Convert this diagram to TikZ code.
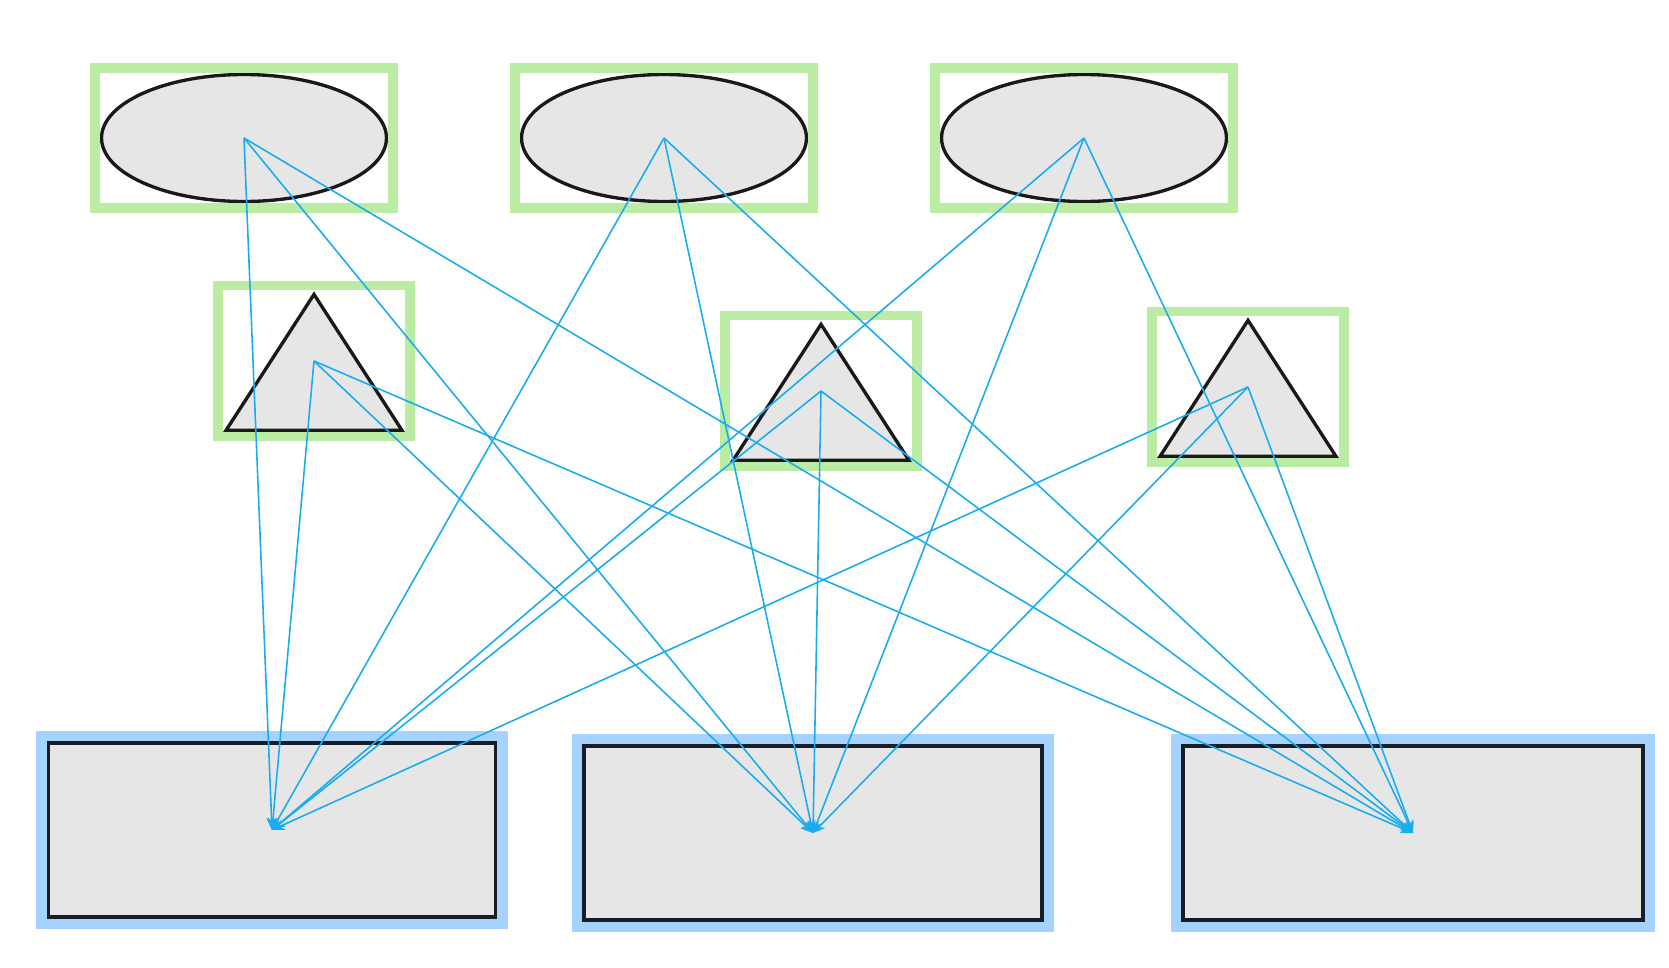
\documentclass[tikz,border=0pt]{standalone}
\usetikzlibrary{shapes.geometric,fit,calc,arrows.meta}
\definecolor{framegreen}{RGB}{187,236,164}
\definecolor{frameblue}{RGB}{165,210,255}
\definecolor{shapegray}{RGB}{230,230,230}
\definecolor{edgedark}{RGB}{24,30,40}
\definecolor{linkblue}{RGB}{25,172,240}

\begin{document}
\begin{tikzpicture}[x=0.02cm, y=-0.02cm,
  oval/.style={ellipse, draw=black!90, fill=shapegray, line width=1.9pt,
    minimum width=5.7cm, minimum height=2.54cm, inner sep=0pt},
  tri/.style={isosceles triangle, isosceles triangle stretches,
    shape border rotate=90, draw=black!90, fill=shapegray, line width=1.9pt,
    minimum width=3.52cm, minimum height=2.72cm, inner sep=0pt,
    anchor=lower side},
  target/.style={rectangle, draw=edgedark, fill=shapegray, line width=2pt,
    preaction={draw=frameblue, line width=14.2pt},
    minimum height=3.48cm, inner sep=0pt},
  greenframe/.style={draw=framegreen, line width=5.6pt, inner sep=2.6pt},
  link/.style={linkblue, line width=0.9pt, -{Stealth[length=7pt,width=6pt]}}
]
  \useasboundingbox (0,0) rectangle (1669,967);

  % top row
  \node[oval] (e1) at (244,138) {};
  \node[oval] (e2) at (664,138) {};
  \node[oval] (e3) at (1084,138) {};

  % middle row
  \node[tri] (t1) at (314,432) {};
  \node[tri] (t2) at (821,462) {};
  \node[tri] (t3) at (1248,458) {};
  \coordinate (t1c) at ($(t1.apex)!0.5!(t1.lower side)$);
  \coordinate (t2c) at ($(t2.apex)!0.5!(t2.lower side)$);
  \coordinate (t3c) at ($(t3.apex)!0.5!(t3.lower side)$);

  % frames
  \foreach \n in {e1,e2,e3}
    \node[greenframe, fit=(\n.north)(\n.south)(\n.east)(\n.west)] (\n box) {};
  \foreach \n in {t1,t2,t3}
    \node[greenframe, fit=(\n.apex)(\n.left corner)(\n.right corner)] (\n box) {};

  % bottom row
  \node[target, minimum width=8.94cm] (r1) at (272,830) {};
  \node[target, minimum width=9.16cm] (r2) at (813,833) {};
  \node[target, minimum width=9.2cm] (r3) at (1413,833) {};

  % links
  \foreach \s in {e1,e2,e3,t1c,t2c,t3c}
    \foreach \d in {r1,r2,r3}
      \draw[link] (\s.center) -- (\d.center);
\end{tikzpicture}
\end{document}
